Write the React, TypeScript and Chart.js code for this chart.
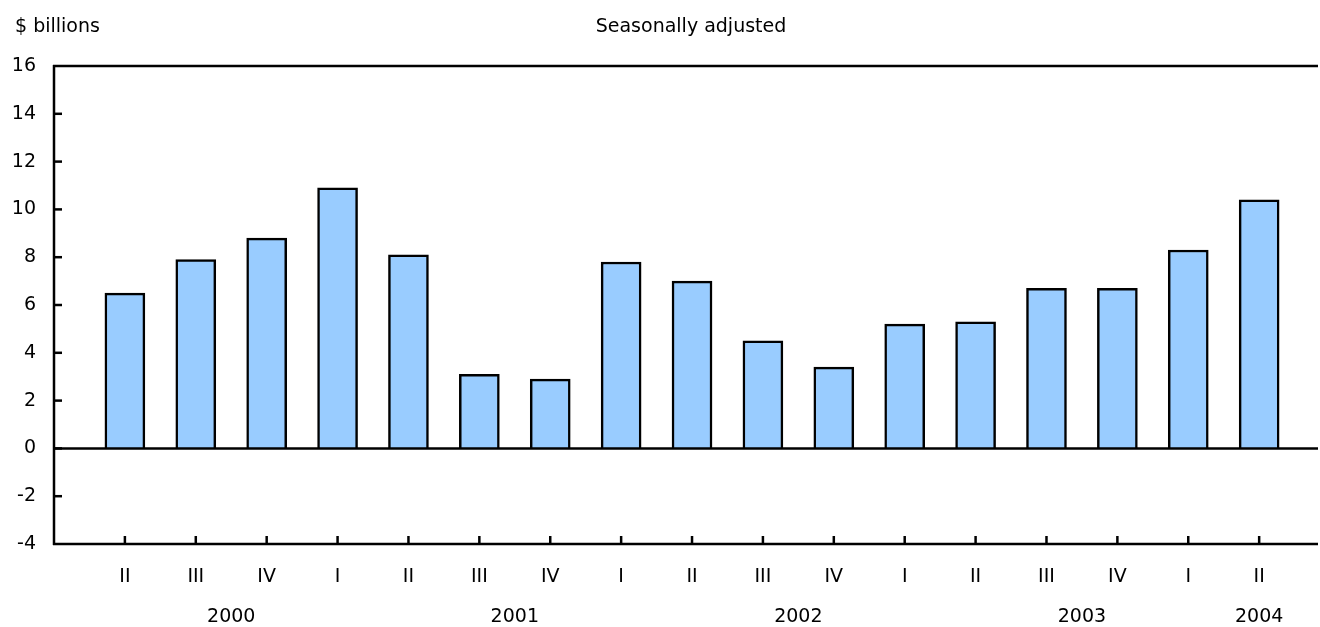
import React, { useEffect, useRef } from "react";
import { Chart, registerables } from "chart.js";

Chart.register(...registerables);

const QUARTERS = ["II", "III", "IV", "I", "II", "III", "IV", "I", "II", "III", "IV", "I", "II", "III", "IV", "I", "II"];
const VALUES = [6.5, 7.9, 8.8, 10.9, 8.1, 3.1, 2.9, 7.8, 7.0, 4.5, 3.4, 5.2, 5.3, 6.7, 6.7, 8.3, 10.4];
const YEARS = ["2000", "2001", "2002", "2003", "2004"];
const YEAR_POSITIONS = [1.5, 5.5, 9.5, 13.5, 16];
const Y_MIN = -4;
const Y_MAX = 16;
const Y_STEP = 2;
const UNIT_LABEL = "$ billions";
const SUBTITLE = "Seasonally adjusted";

const FONT_FAMILY = "'DejaVu Sans', 'Liberation Sans', Arial, sans-serif";
const FONT_SIZE = 19;
const LINE_W = 2.5;

const framePlugin = {
  id: "framePlugin",
  afterDraw(chart: any) {
    const { ctx, chartArea, scales } = chart;
    const { left, right, top, bottom } = chartArea;
    const x = scales.x;
    const y = scales.y;
    ctx.save();
    ctx.strokeStyle = "#000";
    ctx.lineWidth = LINE_W;
    ctx.lineCap = "butt";
    // top line
    ctx.beginPath();
    ctx.moveTo(left - 1, top);
    ctx.lineTo(right, top);
    ctx.stroke();
    // left axis
    ctx.beginPath();
    ctx.moveTo(left, top - 1);
    ctx.lineTo(left, bottom + 1);
    ctx.stroke();
    // bottom axis
    ctx.beginPath();
    ctx.moveTo(left - 1, bottom);
    ctx.lineTo(right, bottom);
    ctx.stroke();
    // zero line
    const y0 = y.getPixelForValue(0);
    ctx.beginPath();
    ctx.moveTo(left, y0);
    ctx.lineTo(right, y0);
    ctx.stroke();
    // y ticks inward
    for (let v = Y_MIN + Y_STEP; v < Y_MAX; v += Y_STEP) {
      const py = y.getPixelForValue(v);
      ctx.beginPath();
      ctx.moveTo(left, py);
      ctx.lineTo(left + 8, py);
      ctx.stroke();
    }
    // x ticks inward (pointing up)
    QUARTERS.forEach((_, i) => {
      const px = x.getPixelForValue(i);
      ctx.beginPath();
      ctx.moveTo(px, bottom);
      ctx.lineTo(px, bottom - 8);
      ctx.stroke();
    });
    // year labels
    ctx.fillStyle = "#000";
    ctx.font = `${FONT_SIZE}px ${FONT_FAMILY}`;
    ctx.textAlign = "center";
    ctx.textBaseline = "middle";
    YEARS.forEach((yr, i) => {
      ctx.fillText(yr, x.getPixelForValue(YEAR_POSITIONS[i]), 617);
    });
    // titles
    ctx.textBaseline = "alphabetic";
    ctx.textAlign = "left";
    ctx.fillText(UNIT_LABEL, 15, 32);
    ctx.textAlign = "center";
    ctx.fillText(SUBTITLE, 691, 32);
    ctx.restore();
  },
};

export default function App() {
  const canvasRef = useRef<HTMLCanvasElement | null>(null);

  useEffect(() => {
    const canvas = canvasRef.current;
    if (!canvas) return;
    const chart = new Chart(canvas, {
      type: "bar",
      data: {
        datasets: [
          {
            data: VALUES.map((v, i) => ({ x: i, y: v })),
            backgroundColor: "#99CCFF",
            borderColor: "#000000",
            borderWidth: LINE_W,
            borderSkipped: "start",
            barThickness: 40,
          } as any,
        ],
      },
      plugins: [framePlugin],
      options: {
        responsive: false,
        animation: false,
        devicePixelRatio: 1,
        layout: { padding: { top: 66, right: 2, left: 0, bottom: 0 } },
        plugins: {
          legend: { display: false },
          tooltip: { enabled: false },
          title: { display: false },
        },
        scales: {
          x: {
            type: "linear",
            offset: false,
            min: -1,
            max: 16.83,
            grid: { display: false, drawTicks: false, offset: false },
            border: { display: false },
            afterBuildTicks: (scale: any) => {
              scale.ticks = QUARTERS.map((_, i) => ({ value: i }));
            },
            afterFit: (scale: any) => {
              scale.height = 83;
            },
            ticks: {
              autoSkip: false,
              maxRotation: 0,
              padding: 22,
              color: "#000",
              font: { family: FONT_FAMILY, size: FONT_SIZE },
              callback: (value: any) => QUARTERS[Number(value)] ?? "",
            },
          },
          y: {
            type: "linear",
            min: Y_MIN,
            max: Y_MAX,
            grid: { display: false, drawTicks: false },
            border: { display: false },
            afterFit: (scale: any) => {
              scale.width = 54;
            },
            ticks: {
              stepSize: Y_STEP,
              padding: 18,
              color: "#000",
              font: { family: FONT_FAMILY, size: FONT_SIZE },
            },
          },
        },
      } as any,
    });
    return () => chart.destroy();
  }, []);

  return (
    <div style={{ position: "fixed", left: 0, top: 0, width: 1320, height: 627, background: "#fff" }}>
      <canvas ref={canvasRef} width={1320} height={627} style={{ width: 1320, height: 627, display: "block" }} />
    </div>
  );
}
